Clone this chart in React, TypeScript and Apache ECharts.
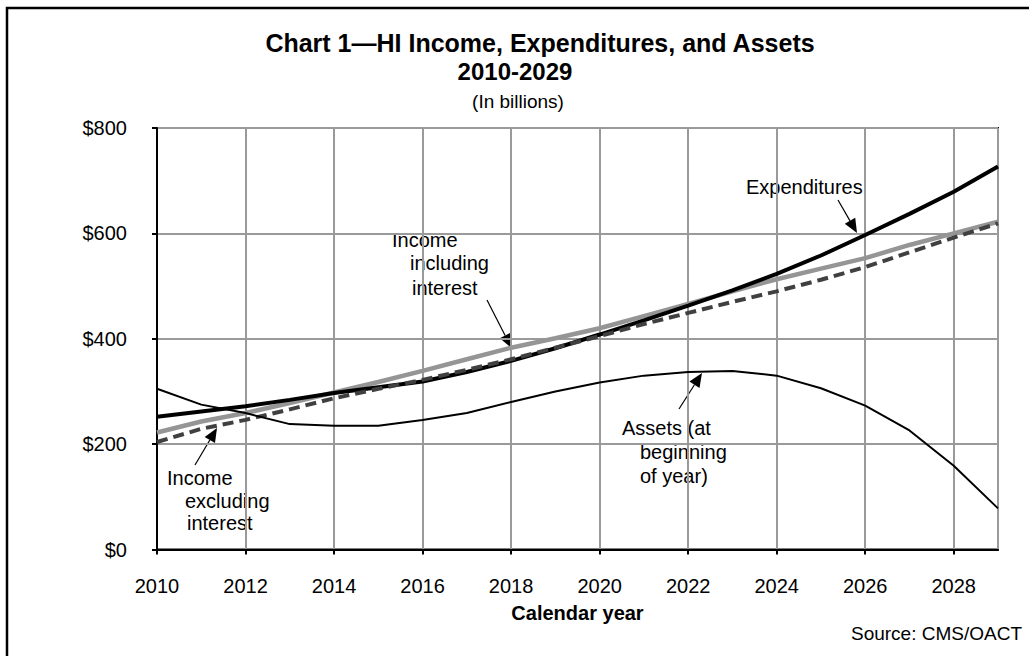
import React, { useEffect, useRef } from "react";
import * as echarts from "echarts";

const years = [2010, 2011, 2012, 2013, 2014, 2015, 2016, 2017, 2018, 2019, 2020, 2021, 2022, 2023, 2024, 2025, 2026, 2027, 2028, 2029];
const expenditures = [252, 262, 272, 284, 297, 308, 319, 337, 358, 382, 408, 435, 463, 492, 523, 558, 597, 637, 679, 727];
const incomeIncl = [222, 243, 259, 278, 298, 318, 339, 361, 383, 401, 420, 443, 466, 490, 513, 533, 553, 578, 600, 622];
const incomeExcl = [204, 229, 246, 266, 287, 305, 322, 341, 361, 383, 405, 428, 449, 470, 490, 512, 536, 564, 592, 619];
const assets = [305, 275, 259, 238, 235, 235, 246, 259, 280, 300, 317, 330, 337, 339, 330, 306, 273, 226, 159, 78];
const yTicks = [0, 200, 400, 600, 800];

const FONT = "Arial, 'Liberation Sans', sans-serif";

function arrow(x1: number, y1: number, x2: number, y2: number) {
  const dx = x2 - x1;
  const dy = y2 - y1;
  const len = Math.sqrt(dx * dx + dy * dy);
  const ux = dx / len;
  const uy = dy / len;
  const hl = 14;
  const hw = 6;
  const bx = x2 - ux * hl;
  const by = y2 - uy * hl;
  return {
    type: "group",
    children: [
      { type: "line", shape: { x1, y1, x2: bx, y2: by }, style: { stroke: "#000", lineWidth: 1.2 } },
      {
        type: "polygon",
        shape: {
          points: [
            [x2, y2],
            [bx - uy * hw, by + ux * hw],
            [bx + uy * hw, by - ux * hw],
          ],
        },
        style: { fill: "#000" },
      },
    ],
  };
}

function label(text: string, x: number, y: number, size = 20, weight = "normal", align = "left") {
  return {
    type: "text",
    x,
    y,
    style: {
      text,
      fill: "#000",
      font: `${weight} ${size}px ${FONT}`,
      textAlign: align,
      textVerticalAlign: "middle",
    },
  };
}

export default function App() {
  const ref = useRef<HTMLDivElement>(null);
  useEffect(() => {
    if (!ref.current) return;
    const chart = echarts.init(ref.current, null, { renderer: "svg" });
    const mk = (arr: number[]) => years.map((y, i) => [y, arr[i]]);
    chart.setOption({
      animation: false,
      backgroundColor: "#fff",
      grid: { left: 157, right: 31, top: 128, bottom: 106.5, show: true, borderColor: "#000", borderWidth: 2 },
      xAxis: {
        type: "value",
        min: 2010,
        max: 2029,
        interval: 2,
        name: "Calendar year",
        nameLocation: "middle",
        nameGap: 53,
        nameTextStyle: { fontFamily: FONT, fontSize: 20, fontWeight: "bold", color: "#000" },
        axisLine: { show: true, lineStyle: { color: "#000", width: 2 } },
        axisTick: { show: true, length: 5, lineStyle: { color: "#000", width: 2 } },
        axisLabel: { showMaxLabel: false, margin: 26, fontFamily: FONT, fontSize: 20, color: "#000", formatter: (v: number) => String(v) },
        splitLine: { show: true, lineStyle: { color: "#9a9a9a", width: 2 } },
      },
      yAxis: {
        type: "value",
        min: yTicks[0],
        max: yTicks[yTicks.length - 1],
        interval: 200,
        axisLine: { show: true, lineStyle: { color: "#000", width: 2 } },
        axisTick: { show: true, length: 5, lineStyle: { color: "#000", width: 2 } },
        axisLabel: { margin: 30, fontFamily: FONT, fontSize: 20, color: "#000", formatter: (v: number) => "$" + v },
        splitLine: { show: true, lineStyle: { color: "#9a9a9a", width: 2 } },
      },
      series: [
        { name: "Income including interest", type: "line", data: mk(incomeIncl), symbol: "none", lineStyle: { color: "#959595", width: 4.5 } },
        { name: "Expenditures", type: "line", data: mk(expenditures), symbol: "none", lineStyle: { color: "#000", width: 4 } },
        { name: "Income excluding interest", type: "line", data: mk(incomeExcl), symbol: "none", lineStyle: { color: "#404040", width: 4, type: [11, 6] } },
        { name: "Assets (at beginning of year)", type: "line", data: mk(assets), symbol: "none", lineStyle: { color: "#000", width: 2 } },
      ],
      graphic: [
        { type: "rect", shape: { x: 7, y: 8, width: 1060, height: 700 }, style: { fill: "none", stroke: "#000", lineWidth: 2.5 } },
        label("Chart 1\u2014HI Income, Expenditures, and Assets", 540, 43, 25, "bold", "center"),
        label("2010-2029", 515, 71, 24, "bold", "center"),
        label("(In billions)", 518, 101, 19, "normal", "center"),
        label("Source: CMS/OACT", 1022, 633, 19, "normal", "right"),
        label("Income", 392, 240),
        label("including", 410, 263),
        label("interest", 412, 288),
        arrow(487, 300, 511.5, 348),
        label("Expenditures", 746, 187),
        arrow(838, 200, 857, 233),
        label("Assets (at", 622, 428),
        label("beginning", 640, 452),
        label("of year)", 640, 476),
        arrow(679, 409, 702, 373),
        label("Income", 167, 478),
        label("excluding", 185, 501),
        label("interest", 187, 523),
        arrow(195, 465, 217, 428),
      ],
    });
    return () => chart.dispose();
  }, []);
  return <div ref={ref} style={{ position: "fixed", left: 0, top: 0, width: 1029, height: 656 }} />;
}
